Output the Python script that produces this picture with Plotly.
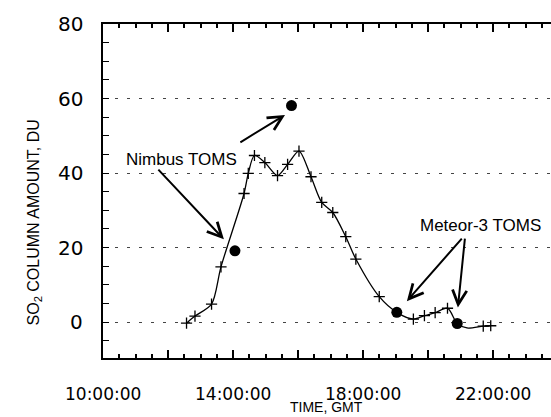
import plotly.graph_objects as go

# SO2 column amount time series (hours GMT, DU)
time_h = [12.57, 12.83, 13.34, 13.63, 14.34, 14.47, 14.66, 14.98, 15.37, 15.68, 16.03,
          16.40, 16.73, 17.07, 17.47, 17.78, 18.50, 19.04, 19.55, 19.89, 20.22, 20.60,
          20.90, 21.20, 21.70, 21.93]
so2_du = [-0.3, 1.6, 4.8, 14.8, 34.5, 39.9, 44.7, 42.8, 39.3, 42.3, 45.9,
          39.0, 32.1, 29.4, 22.9, 16.9, 6.8, 2.6, 0.8, 1.7, 2.5, 3.7,
          -0.4, -1.6, -1.1, -1.0]
marked = [True] * len(time_h)
marked[17] = False
marked[22] = False
marked[23] = False

# satellite observations
nimbus_h = [14.06, 15.80]
nimbus_du = [19.1, 58.1]
meteor_h = [19.04, 20.90]
meteor_du = [2.6, -0.4]

# annotation arrows: (tail_h, tail_du, head_h, head_du)
arrows = [(14.18, 48.0, 15.60, 55.6),
          (11.66, 41.3, 13.72, 22.2),
          (21.08, 22.8, 19.35, 5.6),
          (21.14, 22.8, 20.92, 3.9)]
labels = [("Nimbus TOMS", 12.43, 43.5), ("Meteor-3 TOMS", 21.63, 26.0)]

x_major = [10, 12, 14, 16, 18, 20, 22]
x_label_vals = [10, 14, 18, 22]
x_label_text = ["10:00:00", "14:00:00", "18:00:00", "22:00:00"]
y_tickvals = [0, 20, 40, 60, 80]
y_ticktext = ["0", "20", "40", "60", "80"]

fig = go.Figure()
fig.add_trace(go.Scatter(
    x=time_h, y=so2_du, mode="lines", line=dict(color="black", width=1.3, shape="spline", smoothing=0.8),
    hoverinfo="skip", showlegend=False))
fig.add_trace(go.Scatter(
    x=[h for h, m in zip(time_h, marked) if m], y=[v for v, m in zip(so2_du, marked) if m],
    mode="markers", marker=dict(symbol="cross-thin", size=8, line=dict(color="black", width=1.3)),
    showlegend=False))
fig.add_trace(go.Scatter(
    x=nimbus_h + meteor_h, y=nimbus_du + meteor_du, mode="markers",
    marker=dict(symbol="circle", size=11, color="black"), showlegend=False))

for th, tv, hh, hv in arrows:
    fig.add_annotation(x=hh, y=hv, ax=th, ay=tv, xref="x", yref="y", axref="x", ayref="y",
                       showarrow=True, arrowhead=5, arrowsize=1.4, arrowwidth=2, arrowcolor="black",
                       text="")
for txt, h, v in labels:
    fig.add_annotation(x=h, y=v, xref="x", yref="y", text=txt, showarrow=False,
                       font=dict(family="Liberation Sans", size=17, color="black"))

# tick labels (placed with extra distance from the axes, as in the original)
for h, t in zip(x_label_vals, x_label_text):
    fig.add_annotation(x=h, y=0, xref="x", yref="paper", text=t, showarrow=False,
                       yanchor="top", yshift=-24,
                       font=dict(family="DejaVu Sans", size=17, color="black"))
for v, t in zip(y_tickvals, y_ticktext):
    fig.add_annotation(x=0, y=v, xref="paper", yref="y", text=t, showarrow=False,
                       xanchor="right", xshift=-18,
                       font=dict(family="DejaVu Sans", size=20, color="black"))

fig.add_annotation(x=-0.178, y=0.405, xref="paper", yref="paper", textangle=-90,
                   text="SO<sub>2</sub> COLUMN AMOUNT, DU", showarrow=False,
                   font=dict(family="Liberation Sans", size=16, color="black"))
fig.add_annotation(x=0.498, y=-0.176, xref="paper", yref="paper", yanchor="bottom",
                   text="TIME, GMT", showarrow=False,
                   font=dict(family="Liberation Sans", size=14, color="black"))

hidden_font = dict(size=1, color="rgba(0,0,0,0)")
fig.update_xaxes(range=[10, 10 + 448 / 32.5], tickvals=x_major,
                 ticks="inside", ticklen=8, tickwidth=2, tickcolor="black",
                 showline=True, linecolor="black", linewidth=2, mirror="ticks",
                 minor=dict(dtick=0.5, ticks="inside", ticklen=4),
                 showgrid=False, zeroline=False, tickfont=hidden_font)
fig.update_yaxes(range=[-9.66, 80], tickvals=y_tickvals,
                 ticks="inside", ticklen=6, tickcolor="black",
                 showline=True, linecolor="black", linewidth=2,
                 minor=dict(dtick=5, ticks="inside", ticklen=6),
                 showgrid=True, gridcolor="#444", gridwidth=1, griddash="3px,9px",
                 zeroline=False, tickfont=hidden_font)

fig.update_layout(width=551, height=417, margin=dict(l=103, r=0, t=24, b=59),
                  plot_bgcolor="white", paper_bgcolor="white", showlegend=False)

fig.write_html("out.html")
